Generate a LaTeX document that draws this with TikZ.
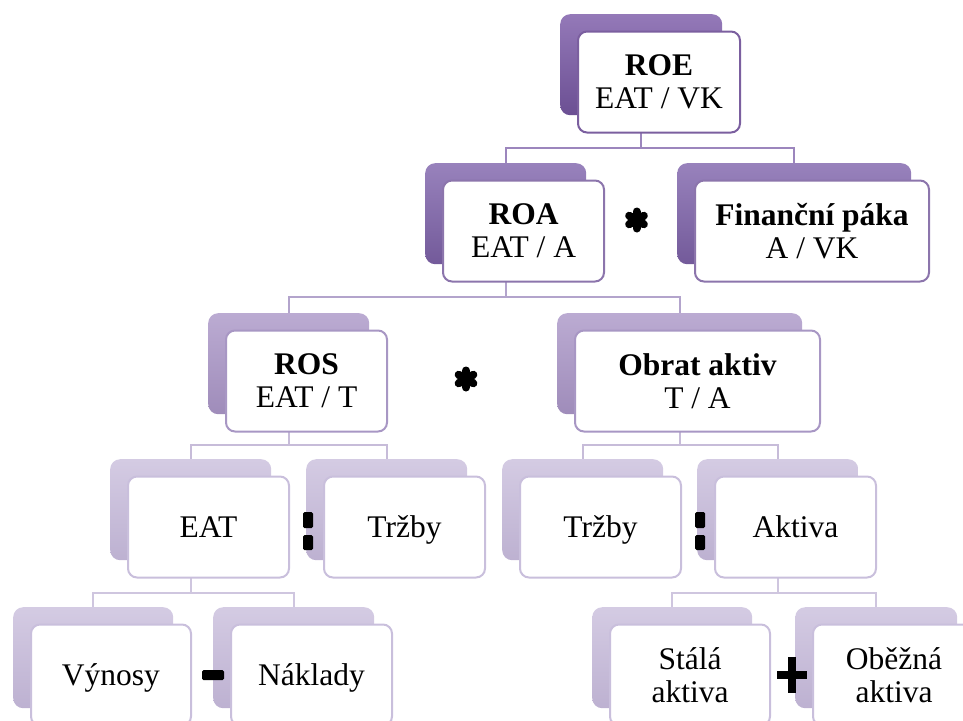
\documentclass[tikz,border=0pt]{standalone}
\usepackage{fontspec}
\setmainfont{Liberation Serif}
\usetikzlibrary{calc}

\pgfdeclarelayer{background}
\pgfsetlayers{background,main}

% purple tones, darkest at the top of the tree
\definecolor{tabAtop}{HTML}{9479B8}\definecolor{tabAbot}{HTML}{6B4F93}
\definecolor{tabBtop}{HTML}{9882BC}\definecolor{tabBbot}{HTML}{735A9A}
\definecolor{tabCtop}{HTML}{BBABD2}\definecolor{tabCbot}{HTML}{9F8CBA}
\definecolor{tabDtop}{HTML}{D4CBE3}\definecolor{tabDbot}{HTML}{BDB1D1}
\definecolor{edgeA}{HTML}{7B5F9F}
\definecolor{edgeB}{HTML}{8C75AC}
\definecolor{edgeC}{HTML}{A897C4}
\definecolor{edgeD}{HTML}{C9BFDC}
\definecolor{wireA}{HTML}{9C86BD}
\definecolor{wireB}{HTML}{B3A4CC}
\definecolor{wireC}{HTML}{C7BCD9}
\definecolor{wireD}{HTML}{CFC6DF}

\tikzset{
  tab/.style={draw=none, rounded corners=10pt, minimum height=101pt,
    inner sep=0pt, anchor=north west},
  tabA/.style={top color=tabAtop, bottom color=tabAbot},
  tabB/.style={top color=tabBtop, bottom color=tabBbot},
  tabC/.style={top color=tabCtop, bottom color=tabCbot},
  tabD/.style={top color=tabDtop, bottom color=tabDbot},
  card/.style={line width=2pt, fill=white, rounded corners=9pt,
    minimum height=101pt, inner sep=0pt, anchor=north west, align=center,
    font=\fontsize{31.5}{33}\selectfont},
  cardA/.style={draw=edgeA},
  cardB/.style={draw=edgeB},
  cardC/.style={draw=edgeC},
  cardD/.style={draw=edgeD},
  oneline/.style={text height=21pt, text depth=0pt},
  wire/.style={line width=2.4pt},
  opbar/.style={fill=black, rounded corners=1.5pt},
}

% [#1 extra card options] #2 name, #3 left, #4 top, #5 width, #6 tone, #7 text
\newcommand\entry[7][]{%
  \node[tab, tab#6, minimum width=#5pt] (#2B) at (#3,#4) {};
  \node[card, card#6, minimum width=#5pt, #1] (#2) at ($(#3,#4)+(17,16.5)$) {#7};
}

% heavy six-lobed asterisk
\newcommand\bigstar[1]{%
  \foreach \ang in {90,30,-30}
    \draw[line width=8pt, line cap=round]
      ($(#1)+(\ang:8.5)$) -- ($(#1)+(\ang+180:8.5)$);
}

\begin{document}
\begin{tikzpicture}[x=1pt,y=-1pt]
\useasboundingbox (0,0) rectangle (963,720);
\clip (0,0) rectangle (963,720);

% level 1
\entry{roe}{560}{14}{162}{A}{\textbf{ROE}\\EAT / VK}
% level 2
\entry{roa}{425}{163}{161}{B}{\textbf{ROA}\\EAT / A}
\entry{fin}{677}{163}{234}{B}{\textbf{Finanční páka}\\A / VK}
% level 3
\entry{ros}{208}{313}{161}{C}{\textbf{ROS}\\EAT / T}
\entry{obr}{557}{313}{245}{C}{\textbf{Obrat aktiv}\\T / A}
% level 4
\entry[oneline]{eat}{110}{459}{161}{D}{EAT}
\entry[oneline]{trzL}{306}{459}{161}{D}{Tržby}
\entry[oneline]{trzR}{502}{459}{161}{D}{Tržby}
\entry[oneline]{akt}{697}{459}{161}{D}{Aktiva}
% level 5
\entry[oneline]{vyn}{13}{607}{160}{D}{Výnosy}
\entry[oneline]{nak}{213}{607}{161}{D}{Náklady}
\entry{sta}{592}{607}{160}{D}{Stálá\\aktiva}
\entry{obe}{795}{607}{162}{D}{Oběžná\\aktiva}

% horizontal bus heights
\coordinate (bus1) at (0,148);
\coordinate (bus2) at (0,297);
\coordinate (bus3) at (0,445);
\coordinate (bus4) at (0,593);

\begin{pgfonlayer}{background}
  \draw[wire, wireA] (roeB.center) -- (roeB.center |- bus1) -| (roaB.north);
  \draw[wire, wireA] (roeB.center |- bus1) -| (finB.north);
  \draw[wire, wireB] (roaB.center) -- (roaB.center |- bus2) -| (rosB.north);
  \draw[wire, wireB] (roaB.center |- bus2) -| (obrB.north);
  \draw[wire, wireC] (rosB.center) -- (rosB.center |- bus3) -| (eatB.north);
  \draw[wire, wireC] (rosB.center |- bus3) -| (trzLB.north);
  \draw[wire, wireC] (obrB.center) -- (obrB.center |- bus3) -| (trzRB.north);
  \draw[wire, wireC] (obrB.center |- bus3) -| (aktB.north);
  \draw[wire, wireD] (eatB.center) -- (eatB.center |- bus4) -| (vynB.north);
  \draw[wire, wireD] (eatB.center |- bus4) -| (nakB.north);
  \draw[wire, wireD] (aktB.center) -- (aktB.center |- bus4) -| (staB.north);
  \draw[wire, wireD] (aktB.center |- bus4) -| (obeB.north);
\end{pgfonlayer}

% operators between the factors
\coordinate (mulA) at (636.5,220);
\coordinate (mulB) at (466,379);
\bigstar{mulA}
\bigstar{mulB}

\coordinate (divL) at (308,531);
\coordinate (divR) at (700,531);
\foreach \c in {divL,divR}{
  \fill[opbar] ($(\c)+(-5,-19)$) rectangle ($(\c)+(5,-3)$);
  \fill[opbar] ($(\c)+(-5,4)$) rectangle ($(\c)+(5,19)$);
}

\coordinate (sub) at (213,675);
\fill[opbar] ($(sub)+(-11,-5)$) rectangle ($(sub)+(11,5)$);

\coordinate (add) at (792,675);
\fill[black] ($(add)+(-15,-4)$) rectangle ($(add)+(15,4)$);
\fill[black] ($(add)+(-4,-18)$) rectangle ($(add)+(4,18)$);
\end{tikzpicture}
\end{document}
